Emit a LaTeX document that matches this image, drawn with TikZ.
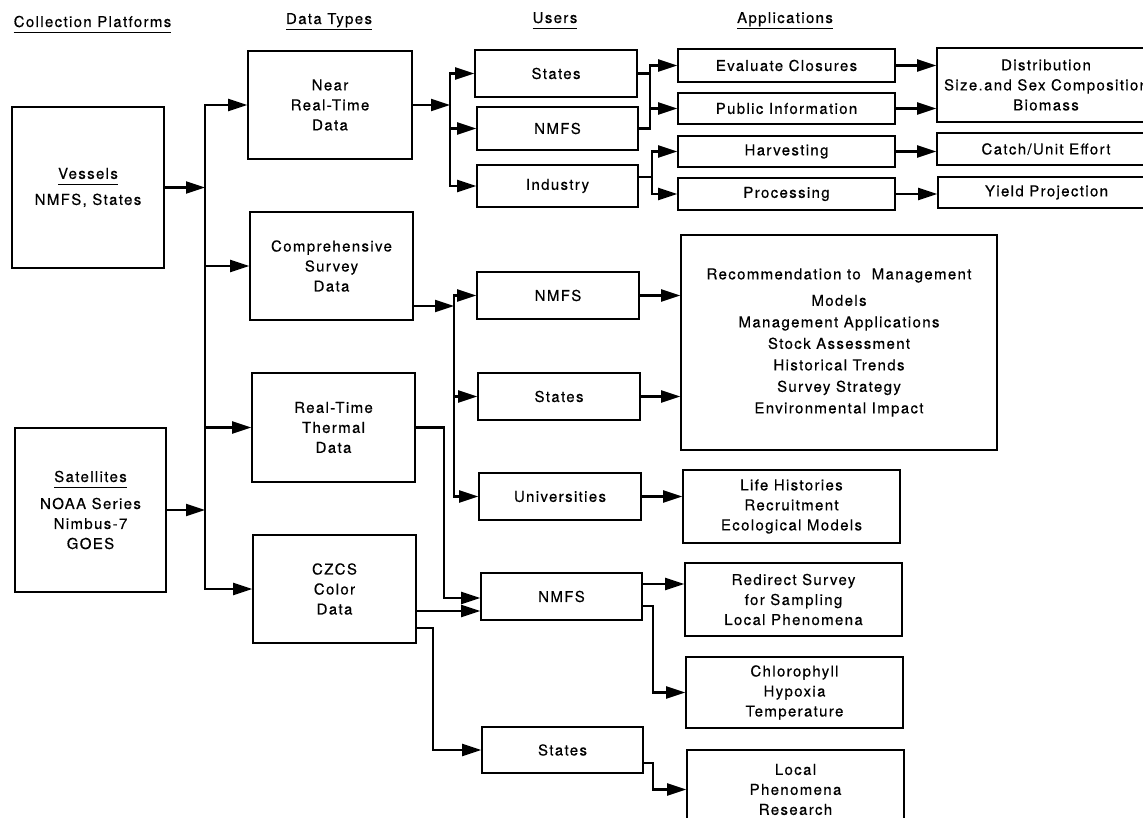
\documentclass[tikz,border=0pt]{standalone}
\usepackage{fontspec}
\setmainfont{TeX Gyre Heros}[LetterSpace=9,FakeBold=0.4]
\usetikzlibrary{arrows.meta}
\newcommand{\ulx}[1]{\setbox0\hbox{#1}\leavevmode\rlap{\copy0}\rule[-6.5pt]{\wd0}{1.8pt}}
\tikzset{
  bx/.style={draw, line width=1.6pt, align=center, inner sep=0pt, font=\fontsize{15}{20}\selectfont},
  hdr/.style={inner sep=0pt, font=\fontsize{15}{20}\selectfont, anchor=base},
  conn/.style={line width=2.2pt, line cap=rect},
  arr/.style={line width=2.2pt, -{Triangle[length=19pt,width=12pt]}},
}
\begin{document}
\begin{tikzpicture}[x=1pt,y=-1pt]
\useasboundingbox (0,0) rectangle (1143,818);
\fill[white] (0,0) rectangle (1143,818);

% headers
\node[hdr] (h1) at (92.5,27) {\ulx{Collection Platforms}};
\node[hdr] (h2) at (329,24) {\ulx{Data Types}};
\node[hdr] (h3) at (555,23) {\ulx{Users}};
\node[hdr] (h4) at (785,23) {\ulx{Applications}};

% collection platforms
\node[bx, minimum width=152pt, minimum height=161pt] (vessels) at (88,187.5) {\ulx{Vessels}\\[6pt]NMFS, States};
\node[bx, minimum width=151pt, minimum height=164pt] (satellites) at (90.5,510) {\ulx{Satellites}\\[7pt]NOAA Series\\Nimbus-7\\GOES};

% data types
\node[bx, minimum width=164pt, minimum height=108pt] (nrt) at (330,105) {Near\\Real-Time\\Data};
\node[bx, minimum width=163pt, minimum height=108pt] (css) at (331.5,266) {Comprehensive\\Survey\\Data};
\node[bx, minimum width=163pt, minimum height=109pt] (rtt) at (333.5,427.5) {Real-Time\\Thermal\\Data};
\node[bx, minimum width=163pt, minimum height=108pt] (czcs) at (334.5,589) {CZCS\\Color\\Data};

% users (top)
\node[bx, minimum width=162pt, minimum height=47pt] (ustates) at (556,73.5) {States};
\node[bx, minimum width=161pt, minimum height=43pt] (unmfs) at (557.5,128.5) {NMFS};
\node[bx, minimum width=161pt, minimum height=42pt] (uind) at (557.5,186) {Industry};

% applications (top)
\node[bx, minimum width=217pt, minimum height=33pt] (aeval) at (786.5,65.5) {Evaluate Closures};
\node[bx, minimum width=217pt, minimum height=31pt] (apub) at (786.5,108.5) {Public Information};
\node[bx, minimum width=217pt, minimum height=31pt] (aharv) at (786.5,151.5) {Harvesting};
\node[bx, minimum width=217pt, minimum height=32pt] (aproc) at (786.5,194) {Processing};

% results (top right)
\node[bx, minimum width=218pt, minimum height=74pt] (rdist) at (1046,85) {Distribution\\Size.and Sex Composition\\Biomass};
\node[bx, minimum width=218pt, minimum height=32pt] (rcatch) at (1046,149) {Catch/Unit Effort};
\node[bx, minimum width=217pt, minimum height=31pt] (ryield) at (1046.5,192.5) {Yield Projection};

% users (middle)
\node[bx, minimum width=162pt, minimum height=47pt] (mnmfs) at (558,295.5) {NMFS};
\node[bx, minimum width=162pt, minimum height=47pt] (mstates) at (559,396.5) {States};
\node[bx, minimum width=162pt, minimum height=47pt] (muniv) at (560,496.5) {Universities};

\node[bx, minimum width=316pt, minimum height=215pt, font=\fontsize{15}{21.5}\selectfont] (big) at (839,342.5)
  {Recommendation to~~Management\\[5pt]Models\\Management Applications\\Stock Assessment\\Historical Trends\\Survey Strategy\\Environmental Impact};
\node[bx, minimum width=217pt, minimum height=73pt] (life) at (791.5,506.5) {Life Histories\\Recruitment\\Ecological Models};

% users (bottom)
\node[bx, minimum width=161pt, minimum height=47pt] (bnmfs) at (561.5,596.5) {NMFS};
\node[bx, minimum width=161pt, minimum height=46pt] (bstates) at (562.5,750) {States};

\node[bx, minimum width=217pt, minimum height=73pt] (redirect) at (793.5,599.5) {Redirect Survey\\for Sampling\\Local Phenomena};
\node[bx, minimum width=217pt, minimum height=71pt] (chloro) at (794.5,692.5) {Chlorophyll\\Hypoxia\\Temperature};
\node[bx, minimum width=217pt, minimum height=79pt] (localp) at (795.5,789.5) {Local\\Phenomena\\Research};

% ---- connectors ----
\coordinate (busA) at (205,0);
\draw[conn] (busA |- nrt.west) -- (busA |- czcs.west);
\draw[arr] (vessels.east) -- (busA |- vessels.east);
\draw[arr] (satellites.east) -- (busA |- satellites.east);
\foreach \n in {nrt,css,rtt,czcs} \draw[arr] (busA |- \n.west) -- (\n.west);

\coordinate (busB) at (450,0);
\draw[arr] (nrt.east) -- (busB |- nrt.east);
\draw[conn] (busB |- ustates.west) -- (busB |- uind.west);
\foreach \n in {ustates,unmfs,uind} \draw[arr] (busB |- \n.west) -- (\n.west);

\coordinate (busC) at (650,0);
\draw[conn] (ustates.east) -- (busC |- ustates.east);
\draw[conn] (unmfs.east) -- (busC |- unmfs.east);
\draw[conn] (busC |- aeval.west) -- (busC |- unmfs.east);
\draw[arr] (busC |- aeval.west) -- (aeval.west);
\draw[arr] (busC |- apub.west) -- (apub.west);

\coordinate (busD) at (652,0);
\coordinate (indout) at ([yshift=9pt]uind.east);
\draw[conn] (indout) -- (busD |- indout);
\draw[conn] (busD |- aharv.west) -- (busD |- aproc.west);
\draw[arr] (busD |- aharv.west) -- (aharv.west);
\draw[arr] (busD |- aproc.west) -- (aproc.west);

\draw[arr] (aeval.east) -- (rdist.west |- aeval.east);
\draw[arr] (apub.east) -- (rdist.west |- apub.east);
\draw[arr] (aharv.east) -- (rcatch.west |- aharv.east);
\draw[arr] (aproc.east) -- (ryield.west |- aproc.east);

\coordinate (busE) at (454,0);
\coordinate (cssout) at ([yshift=-40pt]css.east);
\draw[arr] (cssout) -- (busE |- cssout);
\draw[conn] (busE |- mnmfs.west) -- (busE |- muniv.west);
\foreach \n in {mnmfs,mstates,muniv} \draw[arr] (busE |- \n.west) -- (\n.west);
\draw[arr] (mnmfs.east) -- (big.west |- mnmfs.east);
\draw[arr] (mstates.east) -- (big.west |- mstates.east);
\draw[arr] (muniv.east) -- (life.west |- muniv.east);

\coordinate (busF) at (444,0);
\coordinate (tin) at ([yshift=-1.5pt]bnmfs.west);
\draw[arr] (rtt.east) -| (busF |- tin) -- (tin);
\coordinate (cin) at ([yshift=-14.5pt]bnmfs.west);
\draw[arr] (czcs.east |- cin) -- (cin);
\coordinate (busG) at (433,0);
\coordinate (cout2) at ([yshift=-39pt]czcs.east);
\draw[arr] (cout2) -| (busG |- bstates.west) -- (bstates.west);

\coordinate (busH) at (653,0);
\coordinate (bn1) at ([yshift=12.5pt]bnmfs.east);
\draw[arr] (bn1) -- (redirect.west |- bn1);
\coordinate (bn2) at ([yshift=-9.5pt]bnmfs.east);
\draw[arr] (bn2) -| (busH |- chloro.west) -- (chloro.west);
\coordinate (bs1) at ([yshift=-13pt]bstates.east);
\draw[arr] (bs1) -| (busH |- localp.west) -- (localp.west);
\end{tikzpicture}
\end{document}
